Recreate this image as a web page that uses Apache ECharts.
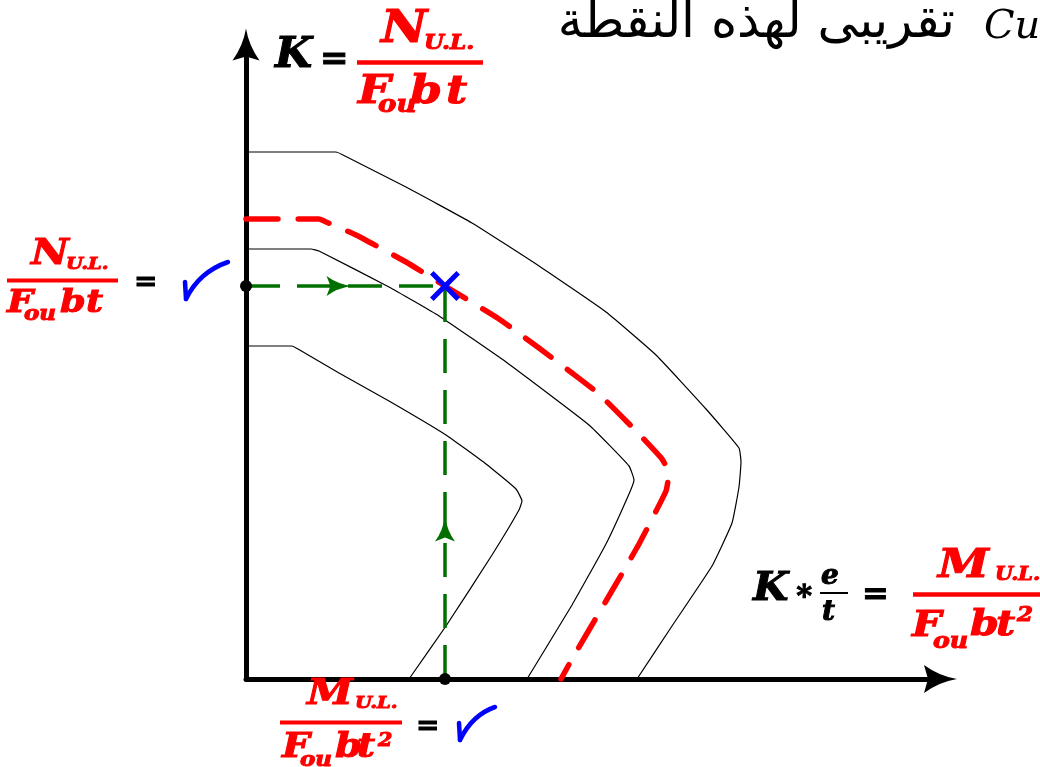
<!DOCTYPE html>
<html>
<head>
<meta charset="utf-8">
<script src="https://cdn.jsdelivr.net/npm/echarts@6/dist/echarts.min.js"></script>
<style>
  html, body { margin: 0; padding: 0; background: #ffffff; }
  #chart { width: 1040px; height: 767px; }
</style>
</head>
<body>
<div id="chart"></div>
<script>
// Interaction curves: x = K*e/t, y = K (plot units)
const curveOuter = [
  [0, 52.7], [9.0, 52.7], [9.6, 52.45], [16.0, 49.2], [22.6, 45.6], [29.3, 41.3], [36.0, 36.7],
  [41.0, 32.4], [46.0, 27.0], [49.3, 23.1], [49.5, 21.7], [49.3, 19.2], [48.6, 15.6],
  [46.6, 11.3], [42.6, 5.3], [39.1, 0]
];
const curveDesign = [
  [0, 46.0], [7.3, 46.0], [7.9, 45.75], [11.0, 44.4], [16.0, 41.7], [19.9, 39.3], [25.3, 36.0],
  [29.3, 33.1], [32.6, 30.6], [35.3, 28.5], [39.3, 24.5], [41.6, 22.0], [42.3, 20.6],
  [42.0, 18.8], [39.3, 13.5], [36.0, 7.8], [32.6, 2.0], [31.5, 0]
];
const curveMiddle = [
  [0, 43.0], [6.5, 43.0], [7.3, 42.8], [14.3, 39.2], [19.3, 36.3], [26.0, 31.7],
  [34.3, 25.4], [38.3, 21.3], [38.8, 19.9], [38.3, 18.5], [36.0, 13.5], [32.6, 7.4],
  [28.1, 0]
];
const curveInner = [
  [0, 33.3], [4.6, 33.3], [5.2, 33.0], [9.3, 30.6], [14.3, 27.8], [20.0, 24.4], [24.0, 21.5],
  [27.0, 19.0], [27.6, 17.8], [27.3, 16.9], [24.6, 12.4], [20.0, 5.3], [16.3, 0]
];

// Design point read on the chart: M/(Fou b t^2) and N/(Fou b t)
const designM = 19.9;
const designN = 39.3;
// Where the direction arrows sit on the two guide lines
const arrowOnNLine = [9.3, designN];
const arrowOnMLine = [designM, 15.0];

const axisMax = { x: 69.45, y: 63.45 };

const RED = '#ff0000';
const BLUE = '#0000ff';
const GREEN = '#007000';
const SERIF = '"DejaVu Serif", "Liberation Serif", serif';

const arrowPath = 'path://M14,0 Q17,18 28,33 L14,29 L0,33 Q11,18 14,0 Z';
const smallArrowPath = 'path://M10,0 Q12,14 20,25 L10,21 L0,25 Q8,14 10,0 Z';
const crossPath = 'path://M0,12 L12,0 L50,38 L88,0 L100,12 L62,50 L100,88 L88,100 L50,62 L12,100 L0,88 L38,50 Z';

// text piece: x = left edge, y = vertical middle
function piece(x, y, text, size, fill, style, sx) {
  return {
    type: 'text', x: x, y: y, z: 100, scaleX: sx || 1,
    style: {
      text: text,
      font: (style || 'italic bold') + ' ' + size + 'px ' + SERIF,
      fill: fill, stroke: fill, lineWidth: style === 'italic' ? 0 : 1,
      align: 'left', verticalAlign: 'middle',
      textAlign: 'left', textVerticalAlign: 'middle'
    }
  };
}
function bar(x1, x2, y, w, color) {
  return { type: 'line', z: 100, shape: { x1: x1, y1: y, x2: x2, y2: y },
    style: { stroke: color, lineWidth: w } };
}
function tick(x0, y0, x1, y1, cx, cy, x2, y2) {
  return [
    { type: 'line', z: 100, shape: { x1: x0, y1: y0, x2: x1, y2: y1 },
      style: { stroke: BLUE, lineWidth: 4.5, lineCap: 'round' } },
    { type: 'bezierCurve', z: 100, shape: { x1: x1, y1: y1, cpx1: cx, cpy1: cy, x2: x2, y2: y2 },
      style: { stroke: BLUE, lineWidth: 4.5, lineCap: 'round', fill: null } }
  ];
}

const W = 1.15; // horizontal stretch of the heavy formula glyphs

const formulas = [
  // K = N_U.L. / (Fou b t)  (top of the vertical axis)
  piece(275, 56, 'K', 42, '#000', null, 1.02),
  piece(320, 60, '=', 34, '#000', 'bold'),
  piece(381, 31, 'N', 44, RED, null, W),
  piece(424, 44, 'U.L.', 20, RED, null, W),
  bar(357, 483, 62.5, 4.5, RED),
  piece(358, 92.5, 'F', 40, RED, null, W),
  piece(378, 106, 'ou', 24, RED, null, W),
  piece(410, 93, 'b', 40, RED, null, W),
  piece(446, 93, 't', 40, RED, null, W),

  // N_U.L. / (Fou b t) = ✓  (left of the vertical axis)
  piece(31, 255, 'N', 36, RED, null, W),
  piece(66, 265, 'U.L.', 17, RED, null, W),
  bar(7, 118, 280.5, 4, RED),
  piece(7, 303.5, 'F', 32, RED, null, W),
  piece(24, 315, 'ou', 20, RED, null, W),
  piece(60, 304, 'b', 32, RED, null, W),
  piece(86, 304, 't', 32, RED, null, W),
  piece(134, 283, '=', 28, '#000', 'bold'),
  ...tick(185, 282, 186, 299, 199, 272, 228, 262),

  // M_U.L. / (Fou b t²) = ✓  (under the horizontal axis)
  piece(307, 695, 'M', 36, RED, null, W),
  piece(355, 704, 'U.L.', 17, RED, null, W),
  bar(280, 402, 722.5, 4, RED),
  piece(282, 748.5, 'F', 34, RED, null, W),
  piece(300, 761, 'ou', 20, RED, null, W),
  piece(335, 748.5, 'b', 34, RED, null, W),
  piece(357, 748.5, 't', 34, RED, null, W),
  piece(378, 741, '2', 18, RED, null, W),
  piece(416, 726.5, '=', 28, '#000', 'bold'),
  ...tick(459, 723, 460, 740, 472, 715, 495, 707),

  // K * e/t = M_U.L. / (Fou b t²)  (end of the horizontal axis)
  piece(753, 590, 'K', 40, '#000', null, 1.02),
  piece(794, 592, '\u2217', 30, '#000', 'bold'),
  piece(821, 577, 'e', 28, '#000'),
  bar(820, 848, 593, 2, '#000'),
  piece(822, 613, 't', 28, '#000'),
  piece(862, 596, '=', 32, '#000', 'bold'),
  piece(938, 567, 'M', 40, RED, null, W),
  piece(995, 575, 'U.L.', 18, RED, null, W),
  bar(913, 1040, 594.5, 4.5, RED),
  piece(912, 626.5, 'F', 36, RED, null, W),
  piece(933, 642, 'ou', 22, RED, null, W),
  piece(970, 626, 'b', 36, RED, null, W),
  piece(996, 626, 't', 36, RED, null, W),
  piece(1017, 616, '2', 20, RED, null, W),

  // heading
  {
    type: 'text', x: 955, y: 24, z: 100,
    style: { text: 'تقريبى لهذه النقطة', font: '50px "DejaVu Sans"', fill: '#000',
      align: 'right', verticalAlign: 'middle', textAlign: 'right', textVerticalAlign: 'middle' }
  },
  piece(984, 28, 'Cu', 40, '#000', 'italic')
];

const chart = echarts.init(document.getElementById('chart'), null, { renderer: 'canvas' });

const thin = (data) => ({
  type: 'line', data: data, showSymbol: false, symbol: 'none', silent: true, z: 3,
  smooth: 0.12,
  lineStyle: { color: '#000', width: 1.2 }
});

chart.setOption({
  animation: false,
  backgroundColor: '#ffffff',
  grid: { left: 246, right: 99.5, top: 44.5, bottom: 88, containLabel: false },
  xAxis: {
    type: 'value', min: 0, max: axisMax.x,
    splitLine: { show: false }, axisTick: { show: false }, axisLabel: { show: false },
    axisLine: { show: true, onZero: false, symbol: ['none', arrowPath], symbolSize: [28, 33],
      lineStyle: { color: '#000', width: 5 } }
  },
  yAxis: {
    type: 'value', min: 0, max: axisMax.y,
    splitLine: { show: false }, axisTick: { show: false }, axisLabel: { show: false },
    axisLine: { show: true, onZero: false, symbol: ['none', arrowPath], symbolSize: [27, 33],
      lineStyle: { color: '#000', width: 5 } }
  },
  series: [
    thin(curveOuter),
    thin(curveMiddle),
    thin(curveInner),
    {
      type: 'line', data: curveDesign, showSymbol: false, symbol: 'none', silent: true, z: 4,
      smooth: 0.12,
      lineStyle: { color: RED, width: 5.5, type: [32, 20], cap: 'round' }
    },
    {
      type: 'line', data: [[0, designN], [designM, designN]], showSymbol: false, symbol: 'none',
      silent: true, z: 5,
      lineStyle: { color: GREEN, width: 3.5, type: [34, 17] }
    },
    {
      type: 'line', data: [[designM, 0], [designM, designN]], showSymbol: false, symbol: 'none',
      silent: true, z: 5,
      lineStyle: { color: GREEN, width: 3.5, type: [34, 17] }
    },
    {
      type: 'scatter', silent: true, z: 6, clip: false,
      symbol: smallArrowPath, symbolSize: [20, 25],
      itemStyle: { color: GREEN, opacity: 1 },
      data: [
        { value: arrowOnNLine, symbolRotate: -90 },
        { value: arrowOnMLine, symbolRotate: 0 }
      ]
    },
    {
      type: 'scatter', silent: true, z: 7, clip: false,
      symbol: 'circle', symbolSize: 12,
      itemStyle: { color: '#000', opacity: 1 },
      data: [[0, designN], [designM, 0]]
    },
    {
      type: 'scatter', silent: true, z: 8, clip: false,
      symbol: crossPath, symbolSize: 30,
      itemStyle: { color: BLUE, opacity: 1 },
      data: [[designM, designN]]
    }
  ],
  graphic: { elements: formulas }
});
</script>
</body>
</html>
